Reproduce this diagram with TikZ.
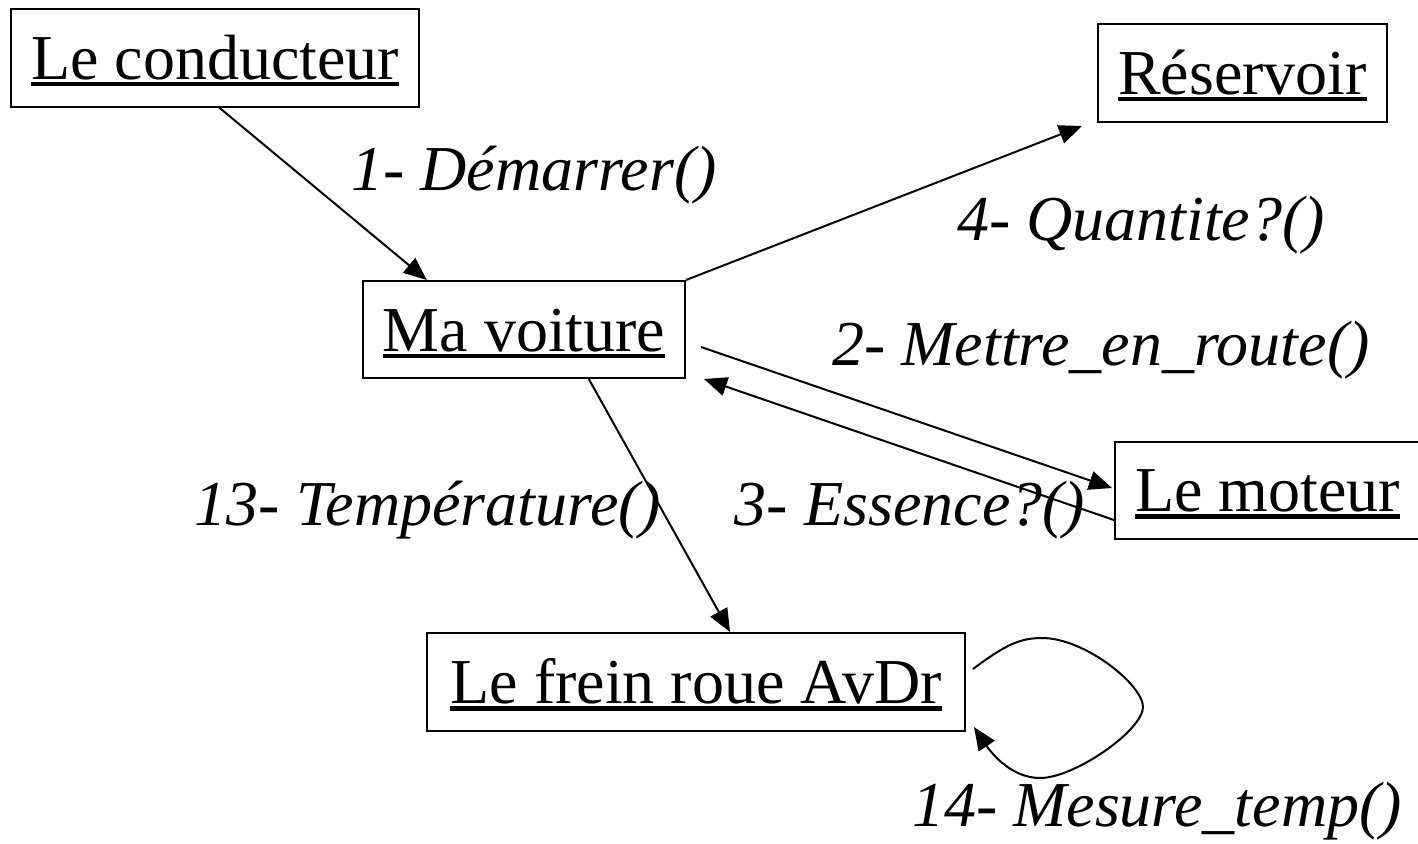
\documentclass[tikz,border=0pt]{standalone}
\usepackage{fontspec}
\setmainfont{Liberation Serif}
\usetikzlibrary{arrows.meta,calc}
\newcommand{\ulbox}[1]{\setbox0\hbox{#1}\rlap{\rule[-7pt]{\wd0}{4.5pt}}\box0}
\begin{document}
\begin{tikzpicture}[x=1pt,y=-1pt,
  obj/.style={draw,line width=2pt,inner sep=0pt,text height=70pt,text depth=27pt,
    font=\fontsize{64}{70}\selectfont},
  msg/.style={anchor=base,inner sep=0pt,font=\fontsize{64}{70}\selectfont\itshape},
  conn/.style={line width=2pt,-{Triangle[length=23pt,width=19pt]}}]
\useasboundingbox (0,0) rectangle (1418,843);
\fill[white] (0,0) rectangle (1418,843);
% objects
\node[obj,minimum width=408pt,minimum height=96pt] (cond) at (215,58) {\ulbox{Le conducteur}};
\node[obj,minimum width=289pt,minimum height=98pt] (res) at (1242.5,73) {\ulbox{Réservoir}};
\node[obj,minimum width=322pt,minimum height=97pt] (car) at (524,329.5) {\ulbox{Ma voiture}};
\node[obj,minimum width=305pt,minimum height=96pt] (motor) at (1267.5,490) {\ulbox{Le moteur}};
\node[obj,minimum width=538pt,minimum height=98pt] (frein) at (696,682) {\ulbox{Le frein roue AvDr}};
% messages
\node[msg] (l1) at (534,190) {1- Démarrer()};
\node[msg] (l4) at (1141,240) {4- Quantite?()};
\node[msg] (l2) at (1101,365) {2- Mettre\_en\_route()};
\node[msg] (l13) at (428,525) {13- Température()};
\node[msg] (l3) at (910,525) {3- Essence?()};
\node[msg] (l14) at (1157,826) {14- Mesure\_temp()};
% connectors
\draw[conn] ($(cond.south west)!0.51!(cond.south east)$) -- ($(car.north west)!0.2!(car.north east)$);
\draw[conn] (car.north east) -- ([shift={(-15pt,-3pt)}]res.south west);
\draw[conn] ([shift={(15pt,-17.5pt)}]car.east) -- ([shift={(-2pt,2pt)}]motor.west);
\draw[conn] ([shift={(0pt,-30pt)}]motor.west) -- ([shift={(18pt,0pt)}]car.south east);
\draw[conn] ($(car.south west)!0.7!(car.south east)$) -- ($(frein.north west)!0.563!(frein.north east)$);
\draw[conn] ([shift={(7pt,13pt)}]frein.east)
  .. controls (1005,645) and (1020,638) .. (1042,638)
  .. controls (1085,638) and (1143,685) .. (1143,707)
  .. controls (1143,730) and (1075,778) .. (1040,778)
  .. controls (1012,778) and (992,754) .. ([shift={(8pt,-45pt)}]frein.east);
\end{tikzpicture}
\end{document}
